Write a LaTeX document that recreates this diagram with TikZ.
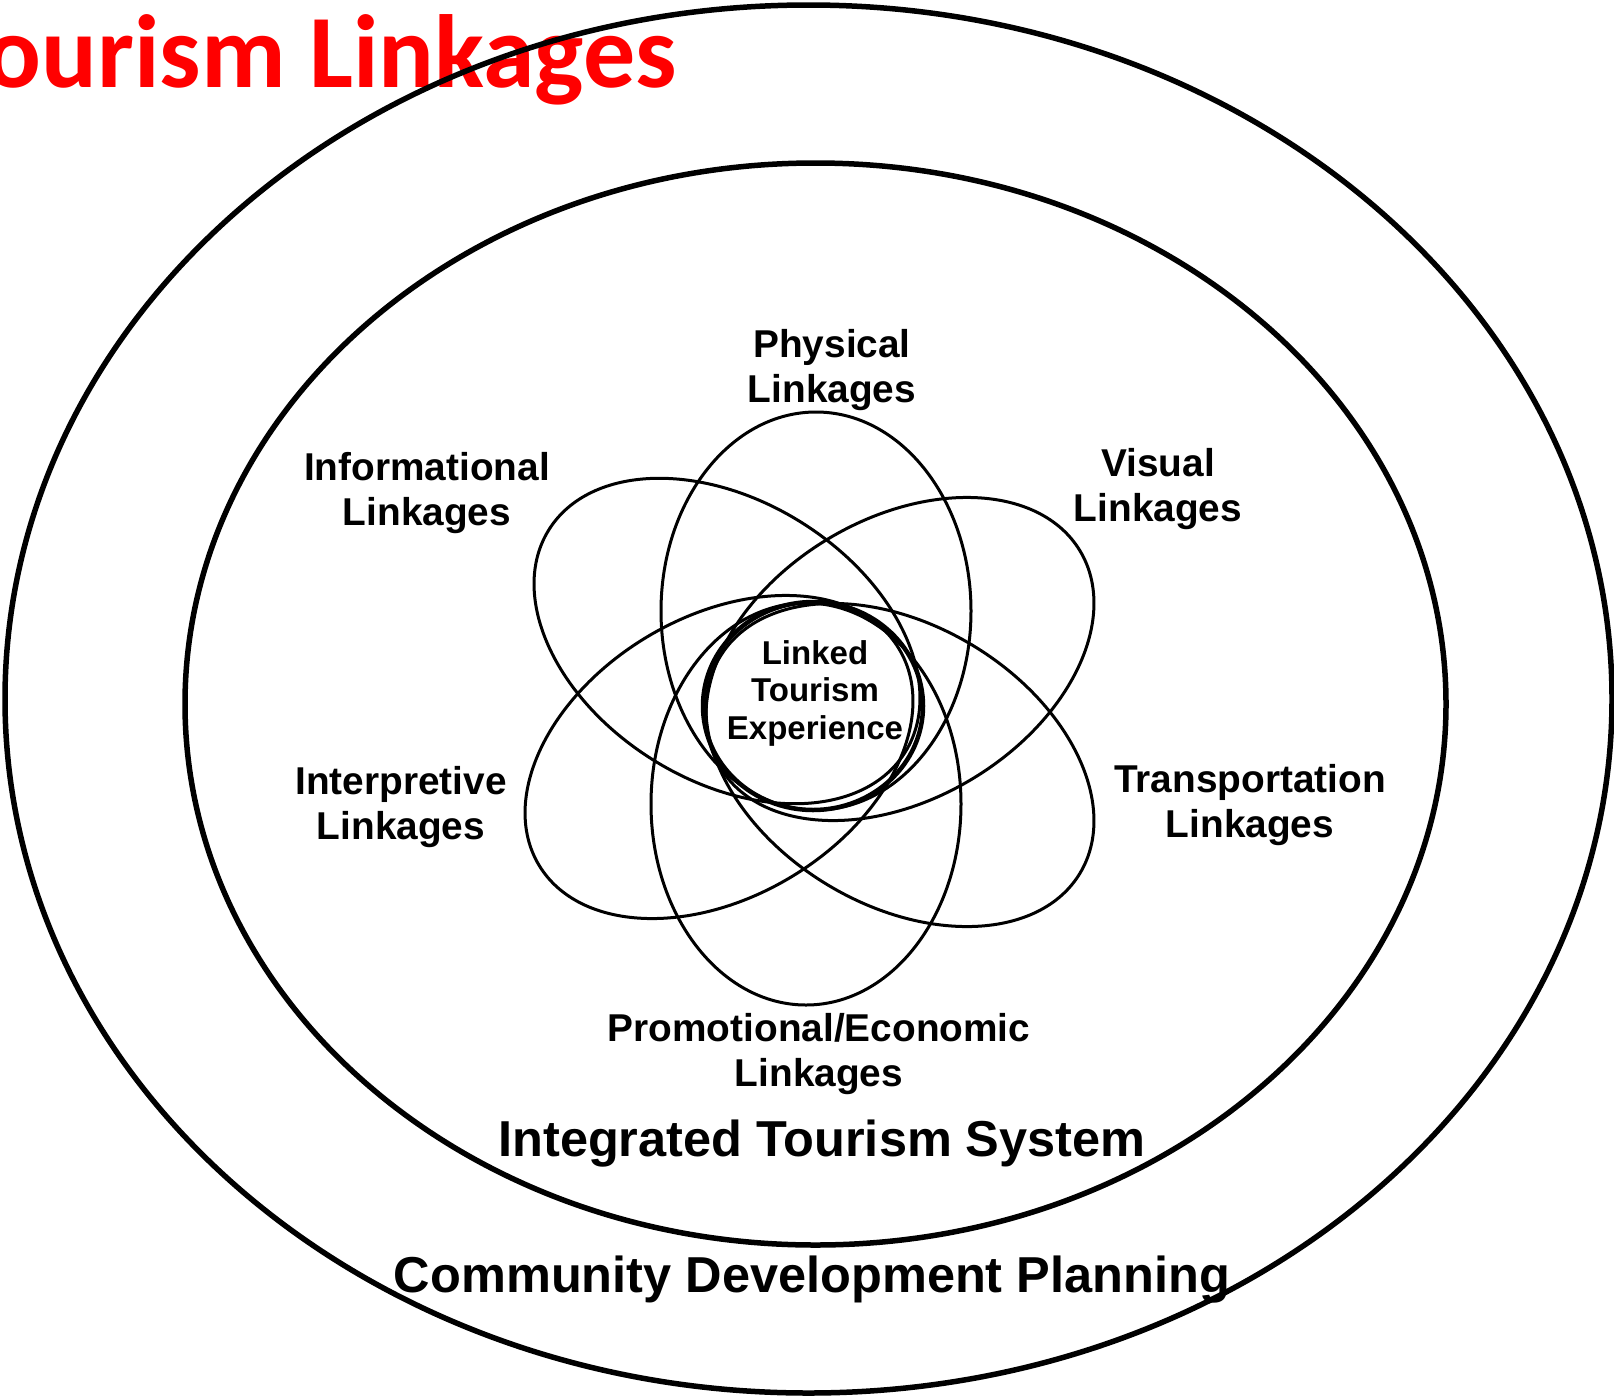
\documentclass[tikz,border=0pt]{standalone}
\usepackage{fontspec}
\setmainfont{Liberation Sans}
\newfontfamily\titlefont{Carlito}

\begin{document}
\begin{tikzpicture}[x=1pt,y=-1pt,
    ring/.style={line width=5.5pt},
    petal/.style={line width=3pt},
    lbl/.style={align=center,inner sep=0pt,font=\bfseries\fontsize{38.8}{44.5}\selectfont},
    sys/.style={anchor=base,inner sep=0pt,font=\bfseries\fontsize{50.5}{60}\selectfont}]
  \useasboundingbox (0,0) rectangle (1614,1395);
  \fill[white] (0,0) rectangle (1614,1395);

  \node[anchor=base east,inner sep=0pt,text=red,
        font=\titlefont\bfseries\fontsize{104}{120}\selectfont] (title) at (677,87) {Tourism Linkages};

  % community and system rings
  \draw[ring] (808.5,699) ellipse [x radius=803.5, y radius=694];
  \draw[ring] (815.5,704) ellipse [x radius=630.5, y radius=541];

  % upright petals
  \draw[petal] (816,611) ellipse [x radius=155, y radius=199];
  \draw[petal] (806,804) ellipse [x radius=155, y radius=201];
  % slanted petals: x/y/angle
  \foreach \x/\y/\r in {727/641/-32, 900/659/31, 719/757/31, 900/765/-31} {
      \draw[petal, rotate around={\r:(\x,\y)}] (\x,\y) ellipse [x radius=210, y radius=140];
  }
  \draw[line width=4.5pt] (813,706) ellipse [x radius=110, y radius=104];

  \node[lbl,font=\bfseries\fontsize{33}{37.5}\selectfont] (core) at (815,693) {Linked\\Tourism\\Experience};
  \node[lbl] (phys) at (832,370) {Physical\\Linkages};
  \node[lbl] (info) at (427,493) {Informational\\Linkages};
  \node[lbl] (vis) at (1158,489) {Visual\\Linkages};
  \node[lbl] (interp) at (401,807) {Interpretive\\Linkages};
  \node[lbl] (trans) at (1250,805) {Transportation\\Linkages};
  \node[lbl] (promo) at (819,1054) {Promotional/Economic\\Linkages};

  \node[sys] (its) at (822,1156) {Integrated Tourism System};
  \node[sys] (cdp) at (812,1292) {Community Development Planning};
\end{tikzpicture}
\end{document}
